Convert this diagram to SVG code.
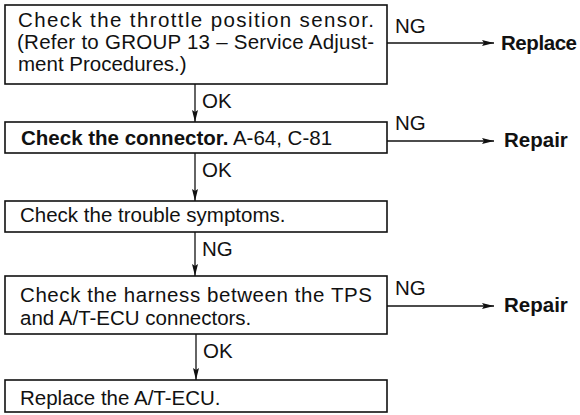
<svg xmlns="http://www.w3.org/2000/svg" width="580" height="415" viewBox="0 0 580 415">
<style>
  .box { fill: #ffffff; stroke: #111111; stroke-width: 1.6; }
  .t { font-family: "Liberation Sans", Arial, sans-serif; font-size: 20.5px; fill: #111111; }
  .b { font-weight: bold; }
  .line { stroke: #111111; stroke-width: 1.3; fill: none; marker-end: url(#arr); }
</style>
<defs>
  <marker id="arr" markerUnits="userSpaceOnUse" markerWidth="12" markerHeight="8" viewBox="0 0 12 8" refX="12" refY="4" orient="auto">
    <path d="M0,1 L12,4 L0,7 L2,4 Z" fill="#111111"/>
  </marker>
</defs>
<rect width="580" height="415" fill="#ffffff"/>

<g id="connectors">
  <line class="line" x1="195" y1="84" x2="195" y2="122"/>
  <line class="line" x1="195" y1="153" x2="195" y2="201"/>
  <line class="line" x1="195" y1="232" x2="195" y2="276"/>
  <line class="line" x1="196" y1="334" x2="196" y2="380"/>
  <line class="line" x1="387" y1="43" x2="494" y2="43"/>
  <line class="line" x1="387" y1="141" x2="494" y2="141"/>
  <line class="line" x1="387" y1="306" x2="494" y2="306"/>
  <text class="t" x="202" y="108">OK</text>
  <text class="t" x="202" y="177">OK</text>
  <text class="t" x="202" y="256">NG</text>
  <text class="t" x="203" y="358">OK</text>
  <text class="t" x="395" y="33">NG</text>
  <text class="t" x="395" y="130">NG</text>
  <text class="t" x="395" y="295">NG</text>
</g>

<g id="n1">
  <rect class="box" x="5" y="5" width="382" height="79"/>
  <text class="t" x="18" y="27" textLength="356">Check the throttle position sensor.</text>
  <text class="t" x="17" y="49" textLength="357">(Refer to GROUP 13 – Service Adjust-</text>
  <text class="t" x="18" y="71">ment Procedures.)</text>
</g>
<g id="n2">
  <rect class="box" x="5" y="122" width="382" height="31"/>
  <text class="t" x="21" y="145"><tspan class="b">Check the connector.</tspan> A-64, C-81</text>
</g>
<g id="n3">
  <rect class="box" x="5" y="201" width="382" height="31"/>
  <text class="t" x="20" y="222">Check the trouble symptoms.</text>
</g>
<g id="n4">
  <rect class="box" x="5" y="276" width="382" height="58"/>
  <text class="t" x="20" y="302" textLength="352">Check the harness between the TPS</text>
  <text class="t" x="20" y="325">and A/T-ECU connectors.</text>
</g>
<g id="n5">
  <rect class="box" x="5" y="380" width="382" height="32"/>
  <text class="t" x="20" y="405">Replace the A/T-ECU.</text>
</g>
<g id="replace1">
  <text class="t b" x="501" y="50" textLength="76">Replace</text>
</g>
<g id="repair1">
  <text class="t b" x="504" y="147">Repair</text>
</g>
<g id="repair2">
  <text class="t b" x="504" y="312">Repair</text>
</g>
</svg>
